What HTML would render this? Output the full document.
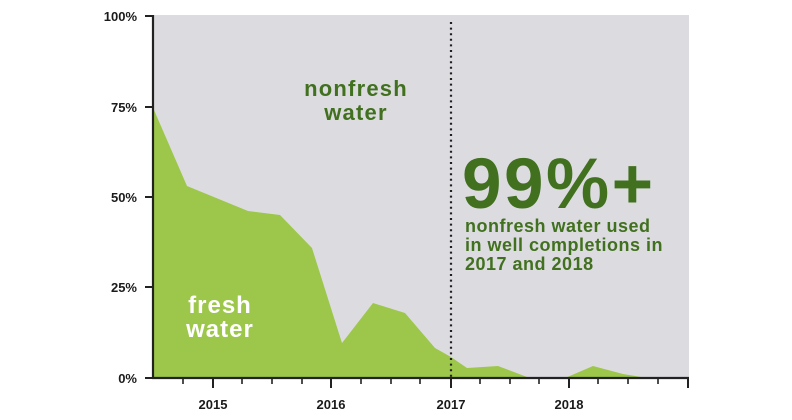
<!DOCTYPE html>
<html>
<head>
<meta charset="utf-8">
<style>
  html, body { margin:0; padding:0; background:#ffffff; }
  body { width:792px; height:420px; overflow:hidden; }
  svg { display:block; }
  .ax { font-family:"Liberation Sans", Arial, sans-serif; font-weight:bold; font-size:13px; fill:#1b1b1b; }
  .dg { font-family:"Liberation Sans", Arial, sans-serif; font-weight:bold; fill:#41701f; }
  .wh { font-family:"Liberation Sans", Arial, sans-serif; font-weight:bold; fill:#ffffff; }
</style>
</head>
<body>
<svg width="792" height="420" viewBox="0 0 792 420" xmlns="http://www.w3.org/2000/svg">
  <!-- plot background -->
  <rect x="153" y="15" width="536" height="363" fill="#dcdce0"/>
  <!-- fresh water area -->
  <polygon fill="#9dc74a" points="154,378 154,110 187,186 248,211 280,215 312,248 342,343 373,303 405,313 435,348 451,357 467,368 498,366 527,377 565,378 593,366 623,374 647,378"/>
  <!-- dotted 2017 line -->
  <line x1="451" y1="22" x2="451" y2="378" stroke="#1f1f1f" stroke-width="2.2" stroke-dasharray="2 3.6" />
  <!-- axes -->
  <line x1="153" y1="15" x2="153" y2="379" stroke="#222" stroke-width="2.2"/>
  <line x1="152" y1="378" x2="689" y2="378" stroke="#222" stroke-width="2.2"/>
  <!-- y ticks -->
  <g stroke="#222" stroke-width="2">
    <line x1="145" y1="16" x2="153" y2="16"/>
    <line x1="145" y1="107" x2="153" y2="107"/>
    <line x1="145" y1="197" x2="153" y2="197"/>
    <line x1="145" y1="287" x2="153" y2="287"/>
    <line x1="145" y1="378" x2="153" y2="378"/>
  </g>
  <!-- x ticks -->
  <g stroke="#222" stroke-width="2">
    <line x1="213" y1="378" x2="213" y2="388"/>
    <line x1="331" y1="378" x2="331" y2="388"/>
    <line x1="451" y1="378" x2="451" y2="388"/>
    <line x1="569" y1="378" x2="569" y2="388"/>
    <line x1="688" y1="378" x2="688" y2="388"/>
  </g>
  <g stroke="#222" stroke-width="1.6">
    <line x1="183" y1="378" x2="183" y2="384"/>
    <line x1="242" y1="378" x2="242" y2="384"/>
    <line x1="272" y1="378" x2="272" y2="384"/>
    <line x1="302" y1="378" x2="302" y2="384"/>
    <line x1="361" y1="378" x2="361" y2="384"/>
    <line x1="391" y1="378" x2="391" y2="384"/>
    <line x1="420" y1="378" x2="420" y2="384"/>
    <line x1="480" y1="378" x2="480" y2="384"/>
    <line x1="510" y1="378" x2="510" y2="384"/>
    <line x1="539" y1="378" x2="539" y2="384"/>
    <line x1="598" y1="378" x2="598" y2="384"/>
    <line x1="628" y1="378" x2="628" y2="384"/>
    <line x1="658" y1="378" x2="658" y2="384"/>
  </g>
  <!-- y labels -->
  <g class="ax" text-anchor="end" font-size="13.5">
    <text x="137" y="21">100%</text>
    <text x="137" y="112">75%</text>
    <text x="137" y="202">50%</text>
    <text x="137" y="292">25%</text>
    <text x="137" y="383">0%</text>
  </g>
  <!-- x labels -->
  <g class="ax" text-anchor="middle">
    <text x="213" y="409">2015</text>
    <text x="331" y="409">2016</text>
    <text x="451" y="409">2017</text>
    <text x="569" y="409">2018</text>
  </g>
  <!-- nonfresh water label -->
  <g class="dg" text-anchor="middle" font-size="22" letter-spacing="1.2">
    <text x="356" y="96">nonfresh</text>
    <text x="356" y="120">water</text>
  </g>
  <!-- fresh water label -->
  <g class="wh" text-anchor="middle" font-size="24" letter-spacing="1">
    <text x="220" y="313">fresh</text>
    <text x="220" y="337">water</text>
  </g>
  <!-- 99%+ -->
  <text class="dg" x="462" y="208" font-size="71" letter-spacing="2.5">99%+</text>
  <g class="dg" font-size="18" letter-spacing="0.5">
    <text x="465" y="232">nonfresh water used</text>
    <text x="465" y="251">in well completions in</text>
    <text x="465" y="270">2017 and 2018</text>
  </g>
</svg>
</body>
</html>
